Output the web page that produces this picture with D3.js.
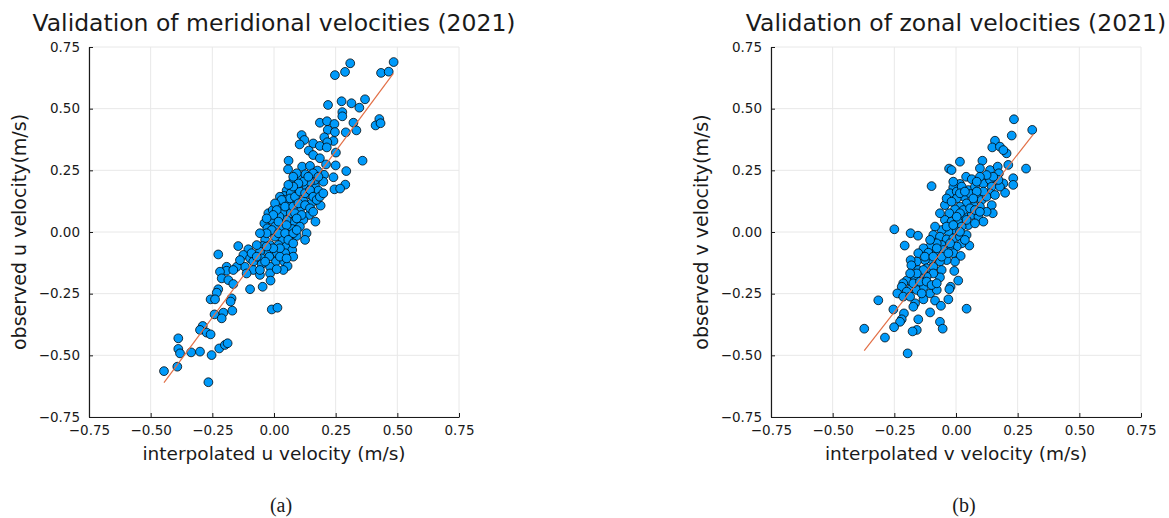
<!DOCTYPE html>
<html>
<head>
<meta charset="utf-8">
<script src="https://cdn.jsdelivr.net/npm/d3@7"></script>
<style>
  html, body { margin: 0; padding: 0; background: #fff; }
  svg { display: block; }
  text { font-family: "DejaVu Sans", sans-serif; fill: #1a1a1a; }
  .caption { font-family: "Liberation Serif", "Times New Roman", serif; }
</style>
</head>
<body>
<svg id="chart" width="1169" height="518"></svg>
<script>
// ---------- DATA ----------
const tickValues = [-0.75, -0.5, -0.25, 0, 0.25, 0.5, 0.75];
const tickLabels = ["\u22120.75", "\u22120.50", "\u22120.25", "0.00", "0.25", "0.50", "0.75"];

const titles = ["Validation of meridional velocities (2021)", "Validation of zonal velocities (2021)"];
const xLabels = ["interpolated u velocity (m/s)", "interpolated v velocity (m/s)"];
const yLabels = ["observed u velocity(m/s)", "observed v velocity(m/s)"];
const captions = ["(a)", "(b)"];

// panel (a): interpolated u vs observed u
const uInterp = [0.485,0.309,0.288,0.247,0.434,0.465,0.369,0.274,0.314,0.346,0.219,0.277,0.277,0.322,0.334,0.291,0.427,0.412,0.432,0.186,
0.215,0.245,0.218,0.247,0.112,0.123,0.104,0.204,0.241,0.216,0.159,0.186,0.141,0.159,0.214,0.251,0.059,0.057,0.359,0.114,
0.146,0.186,0.211,0.250,0.293,0.203,0.241,0.101,0.078,0.127,0.176,0.289,0.245,0.268,0.200,0.166,0.132,0.092,0.051,0.041,
0.068,0.105,0.143,0.180,0.189,0.151,0.119,0.085,0.054,0.024,-0.023,-0.005,0.022,0.038,0.068,0.105,0.143,0.168,0.119,0.082,
0.051,0.022,-0.009,-0.039,-0.027,0.004,0.038,0.074,0.105,0.132,0.126,0.092,0.062,0.035,0.004,-0.036,-0.046,-0.016,0.018,0.049,
0.074,0.078,0.045,0.011,-0.023,-0.057,-0.104,-0.145,-0.124,-0.097,-0.050,-0.019,0.008,0.041,0.055,0.038,-0.016,-0.050,-0.084,-0.118,
-0.151,-0.226,-0.192,-0.192,-0.219,-0.084,-0.057,-0.016,-0.212,-0.185,-0.165,-0.226,-0.232,-0.097,-0.046,-0.014,-0.172,-0.176,-0.257,-0.239,
-0.241,-0.205,-0.212,-0.169,-0.009,0.014,-0.289,-0.300,-0.273,-0.257,-0.388,-0.388,-0.381,-0.336,-0.300,-0.253,-0.222,-0.199,-0.188,-0.446,
-0.392,-0.266,
0.024,0.045,0.065,0.085,0.105,0.126,0.146,0.159,0.173,0.186,0.200,0.166,0.146,0.119,0.099,0.078,0.058,0.159,0.139,0.180,
0.092,0.078,0.031,0.004,0.011,0.045,0.078,0.099,0.126,0.146,0.159,-0.003,0.018,0.051,0.085,0.112,0.092,-0.030,-0.009,0.018,
0.045,0.078,0.092,0.024,-0.003,-0.030,0.058,0.078,-0.030,-0.057,-0.070,-0.091,-0.070,0.024,0.051,-0.036,0.011,-0.057,-0.111,-0.138,
-0.165];
const uObserved = [0.689,0.684,0.649,0.636,0.645,0.650,0.538,0.530,0.522,0.504,0.515,0.486,0.469,0.443,0.412,0.404,0.458,0.432,0.441,0.443,
0.449,0.438,0.414,0.405,0.393,0.373,0.355,0.384,0.369,0.364,0.359,0.349,0.330,0.312,0.343,0.322,0.289,0.254,0.289,0.265,
0.268,0.299,0.274,0.270,0.247,0.232,0.222,0.227,0.207,0.234,0.249,0.192,0.173,0.176,0.204,0.188,0.184,0.177,0.168,0.146,
0.157,0.143,0.153,0.168,0.107,0.116,0.126,0.119,0.109,0.114,0.076,0.089,0.096,0.076,0.076,0.089,0.069,0.042,0.049,0.042,
0.049,0.062,0.049,0.035,0.015,0.022,0.015,0.012,0.022,-0.005,-0.032,-0.016,-0.012,-0.030,-0.019,-0.032,-0.057,-0.053,-0.053,-0.059,
-0.073,-0.100,-0.086,-0.086,-0.080,-0.080,-0.070,-0.057,-0.093,-0.107,-0.107,-0.100,-0.120,-0.120,-0.138,-0.154,-0.141,-0.130,-0.120,-0.141,
-0.141,-0.091,-0.141,-0.157,-0.161,-0.154,-0.174,-0.168,-0.188,-0.195,-0.211,-0.232,-0.246,-0.232,-0.222,-0.197,-0.269,-0.282,-0.273,-0.273,
-0.334,-0.327,-0.350,-0.319,-0.314,-0.307,-0.381,-0.397,-0.408,-0.415,-0.431,-0.474,-0.492,-0.488,-0.485,-0.499,-0.472,-0.458,-0.451,-0.564,
-0.546,-0.609,
0.143,0.130,0.136,0.143,0.164,0.157,0.170,0.143,0.130,0.143,0.157,0.211,0.204,0.204,0.197,0.184,0.191,0.238,0.224,0.224,
0.238,0.224,0.130,0.116,0.089,0.103,0.103,0.116,0.109,0.096,0.082,0.069,0.042,0.028,0.076,0.069,0.055,0.055,0.008,-0.005,
-0.005,-0.005,0.008,-0.066,-0.066,-0.059,-0.032,-0.046,-0.005,-0.005,-0.053,-0.086,-0.100,-0.100,-0.107,-0.120,-0.151,-0.154,-0.168,-0.114,
-0.154];
const uFitX = [-0.446, 0.484];
const uFitY = [-0.611, 0.643];

// panel (b): interpolated v vs observed v
const vInterp = [0.235,0.309,0.226,0.158,0.147,0.178,0.205,0.192,0.284,0.016,-0.028,-0.018,0.107,0.097,0.138,0.169,0.212,0.174,0.232,0.232,
0.199,0.192,0.041,0.064,0.016,-0.011,-0.024,0.003,0.050,0.077,0.111,0.138,0.145,0.138,0.178,-0.099,0.032,0.059,0.084,0.104,
0.124,0.145,0.149,0.124,0.097,0.070,0.043,0.016,-0.004,-0.027,-0.045,-0.018,0.009,0.036,0.064,0.091,0.111,0.050,0.023,-0.004,
-0.031,-0.058,-0.085,-0.092,-0.065,-0.038,-0.011,0.016,0.043,0.054,0.023,0.003,-0.027,-0.058,-0.078,-0.105,-0.132,-0.153,-0.112,-0.078,
-0.045,-0.011,0.019,-0.004,-0.038,-0.065,-0.099,-0.126,-0.159,-0.184,-0.181,-0.153,-0.119,-0.092,-0.058,-0.007,0.009,-0.022,-0.027,-0.065,
-0.092,-0.119,-0.146,-0.166,-0.200,-0.214,-0.220,-0.180,-0.159,-0.130,-0.105,-0.078,-0.132,-0.166,-0.173,-0.200,-0.238,-0.214,-0.085,-0.061,
-0.031,0.043,-0.250,-0.184,-0.154,-0.208,-0.315,-0.254,-0.211,-0.220,-0.227,-0.153,-0.159,-0.176,-0.105,-0.065,-0.054,-0.251,-0.288,-0.372,
-0.196,0.023,0.003,-0.045,-0.065,-0.011,
0.030,0.057,0.077,0.097,0.016,0.043,0.077,0.003,-0.038,-0.011,0.016,0.036,-0.024,-0.051,-0.078,-0.105,-0.126,-0.092,-0.058,-0.031,
-0.132,-0.159,-0.186,-0.173,-0.146,-0.119,-0.099,-0.078,-0.139,-0.186,0.111,0.084,0.070,0.158,0.172,0.151,0.124,0.097,0.084,-0.038,
-0.018,0.016,0.036];
const vObserved = [0.457,0.414,0.391,0.370,0.343,0.346,0.319,0.332,0.257,0.285,0.257,0.251,0.289,0.258,0.251,0.265,0.272,0.238,0.218,0.191,
0.159,0.197,0.224,0.214,0.195,0.181,0.157,0.164,0.170,0.184,0.197,0.211,0.184,0.157,0.184,0.186,0.143,0.154,0.143,0.130,
0.143,0.109,0.076,0.082,0.103,0.109,0.116,0.103,0.092,0.076,0.049,0.042,0.049,0.062,0.069,0.062,0.042,0.028,0.022,0.008,
0.001,0.008,0.022,-0.012,-0.019,-0.030,-0.026,-0.019,-0.012,-0.055,-0.046,-0.059,-0.066,-0.053,-0.046,-0.059,-0.066,-0.086,-0.084,-0.086,
-0.097,-0.086,-0.097,-0.120,-0.114,-0.120,-0.111,-0.114,-0.120,-0.114,-0.135,-0.154,-0.147,-0.141,-0.154,-0.158,-0.197,-0.222,-0.232,-0.184,
-0.168,-0.181,-0.174,-0.192,-0.197,-0.208,-0.222,-0.228,-0.235,-0.222,-0.249,-0.235,-0.273,-0.289,-0.303,-0.242,-0.249,-0.262,-0.278,-0.299,
-0.273,-0.311,0.011,-0.005,-0.015,-0.055,-0.277,-0.314,-0.330,-0.354,-0.364,-0.354,-0.397,-0.403,-0.326,-0.364,-0.392,-0.386,-0.428,-0.392,
-0.492,0.184,0.136,0.109,0.076,0.204,
0.089,0.096,0.089,0.082,0.076,0.049,0.035,0.062,0.022,0.028,0.001,-0.032,-0.046,-0.073,-0.066,-0.032,-0.100,-0.100,-0.100,-0.086,
-0.154,-0.168,-0.168,-0.208,-0.201,-0.201,-0.215,-0.208,-0.249,-0.262,0.164,0.164,0.136,0.150,0.211,0.224,0.231,0.224,0.204,0.136,
0.123,0.157,0.164];
const vFitX = [-0.372, 0.314];
const vFitY = [-0.481, 0.397];

// ---------- DRAWING ----------
const svg = d3.select("#chart");
const panels = [
  { left: 89,  xs: uInterp, ys: uObserved, fx: uFitX, fy: uFitY, capX: 281 },
  { left: 771, xs: vInterp, ys: vObserved, fx: vFitX, fy: vFitY, capX: 964 }
];
const plotTop = 47, plotSize = 370;

panels.forEach((p, i) => {
  const x = d3.scaleLinear().domain([-0.75, 0.75]).range([p.left, p.left + plotSize]);
  const y = d3.scaleLinear().domain([-0.75, 0.75]).range([plotTop + plotSize, plotTop]);
  const g = svg.append("g");

  // grid
  g.append("g").selectAll("line.gx").data(tickValues).join("line")
    .attr("x1", d => x(d)).attr("x2", d => x(d))
    .attr("y1", plotTop).attr("y2", plotTop + plotSize)
    .attr("stroke", "#e8e8e8").attr("stroke-width", 1);
  g.append("g").selectAll("line.gy").data(tickValues).join("line")
    .attr("y1", d => y(d)).attr("y2", d => y(d))
    .attr("x1", p.left).attr("x2", p.left + plotSize)
    .attr("stroke", "#e8e8e8").attr("stroke-width", 1);

  // axes
  const fmt = d => tickLabels[tickValues.indexOf(d)];
  const xAxis = g.append("g").attr("transform", `translate(0,${plotTop + plotSize})`)
    .call(d3.axisBottom(x).tickValues(tickValues).tickFormat(fmt).tickSizeInner(-4).tickSizeOuter(0).tickPadding(8));
  const yAxis = g.append("g").attr("transform", `translate(${p.left},0)`)
    .call(d3.axisLeft(y).tickValues(tickValues).tickFormat(fmt).tickSizeInner(-4).tickSizeOuter(0).tickPadding(9));
  [xAxis, yAxis].forEach(a => {
    a.select(".domain").attr("stroke", "#1a1a1a").attr("stroke-width", 1.2);
    a.selectAll(".tick line").attr("stroke", "#1a1a1a").attr("stroke-width", 1);
    a.selectAll(".tick text").attr("font-family", "DejaVu Sans").attr("font-size", 13.5).attr("fill", "#1a1a1a");
  });

  // points
  g.append("g").selectAll("circle").data(d3.range(p.xs.length)).join("circle")
    .attr("cx", k => x(p.xs[k])).attr("cy", k => y(p.ys[k]))
    .attr("r", 4.4)
    .attr("fill", "#009AFA")
    .attr("stroke", "rgba(0,0,0,0.85)").attr("stroke-width", 0.9);

  // fit line
  g.append("path")
    .attr("d", d3.line().x(k => x(p.fx[k])).y(k => y(p.fy[k]))([0, 1]))
    .attr("stroke", "#E26F46").attr("stroke-width", 1.2).attr("fill", "none");

  // title
  const cx = p.left + plotSize / 2;
  g.append("text").attr("x", cx).attr("y", 31).attr("text-anchor", "middle")
    .attr("font-size", 23.5).text(titles[i]);
  // x label
  g.append("text").attr("x", cx).attr("y", 459.5).attr("text-anchor", "middle")
    .attr("font-size", 18.5).text(xLabels[i]);
  // y label
  g.append("text").attr("transform", `translate(${p.left - 63},${plotTop + plotSize / 2}) rotate(-90)`)
    .attr("text-anchor", "middle").attr("font-size", 19).text(yLabels[i]);
  // caption
  g.append("text").attr("class", "caption").attr("x", p.capX).attr("y", 512)
    .attr("text-anchor", "middle").attr("font-size", 20).text(captions[i]);
});
</script>
</body>
</html>
